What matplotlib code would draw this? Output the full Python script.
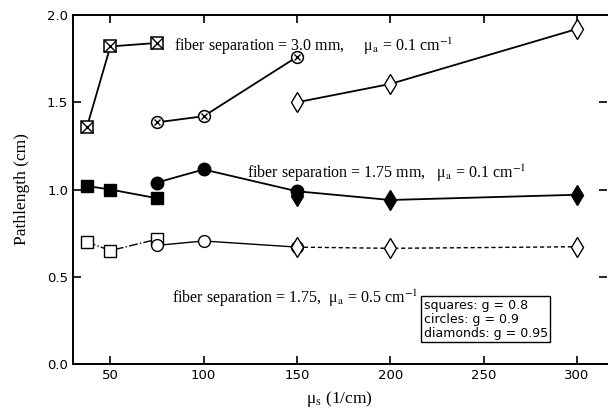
import numpy as np
import matplotlib
matplotlib.use("Agg")
import matplotlib.pyplot as plt

plt.rcParams['mathtext.fontset'] = 'stix'
serif = 'Liberation Serif'

# fiber separation 3.0 mm, mua = 0.1
sq30_x = [37.5, 50, 75]
sq30_y = [1.36, 1.82, 1.84]
ci30_x = [75, 100, 150]
ci30_y = [1.385, 1.42, 1.76]
di30_x = [150, 200, 300]
di30_y = [1.50, 1.605, 1.92]

# fiber separation 1.75 mm, mua = 0.1
sq175_x = [37.5, 50, 75]
sq175_y = [1.02, 1.00, 0.95]
ci175_x = [75, 100, 150]
ci175_y = [1.04, 1.115, 0.99]
di175_x = [150, 200, 300]
di175_y = [0.96, 0.94, 0.97]

# fiber separation 1.75, mua = 0.5
sq05_x = [37.5, 50, 75]
sq05_y = [0.70, 0.65, 0.715]
ci05_x = [75, 100, 150]
ci05_y = [0.68, 0.705, 0.67]
di05_x = [150, 200, 300]
di05_y = [0.67, 0.663, 0.672]

xticks = [50, 100, 150, 200, 250, 300]
yticks = [0.0, 0.5, 1.0, 1.5, 2.0]

fig = plt.figure(figsize=(6.1, 4.12), dpi=100)
ax = fig.add_axes([0.1197, 0.1165, 0.875, 0.847])

k = 'black'
lw = 1.3
# 3.0 mm group
ax.plot(sq30_x, sq30_y, '-', color=k, lw=lw)
ax.plot(sq30_x, sq30_y, 's', ms=9, mfc='white', mec=k, mew=1.1)
ax.plot(sq30_x, sq30_y, 'x', ms=9, color=k, mew=1.0)
ax.plot(ci30_x, ci30_y, '-', color=k, lw=lw)
ax.plot(ci30_x, ci30_y, 'o', ms=8.5, mfc='white', mec=k, mew=1.1)
ax.plot(ci30_x, ci30_y, 'x', ms=4, color=k, mew=1.0)
ax.plot(di30_x, di30_y, '-', color=k, lw=lw)
ax.plot(di30_x, di30_y, 'd', ms=10, mfc='white', mec=k, mew=1.0)

# 1.75 mm, 0.1
ax.plot(sq175_x, sq175_y, '-', color=k, lw=lw)
ax.plot(sq175_x, sq175_y, 's', ms=9, color=k)
ax.plot(ci175_x + di175_x[1:], ci175_y + di175_y[1:], '-', color=k, lw=lw)
ax.plot(ci175_x, ci175_y, 'o', ms=9, color=k)
ax.plot(di175_x, di175_y, 'd', ms=10, color=k)

# 1.75, 0.5
ax.plot(sq05_x, sq05_y, '-.', color=k, lw=1.0)
ax.plot(sq05_x, sq05_y, 's', ms=9, mfc='white', mec=k, mew=1.0)
ax.plot(ci05_x, ci05_y, '-', color=k, lw=1.0)
ax.plot(ci05_x, ci05_y, 'o', ms=8.5, mfc='white', mec=k, mew=1.0)
ax.plot(di05_x, di05_y, '--', color=k, lw=1.0, dashes=(3, 2))
ax.plot(di05_x, di05_y, 'd', ms=10, mfc='white', mec=k, mew=1.0)

ax.set_xlim(30, 316)
ax.set_ylim(0, 2.0)
ax.set_xticks(xticks)
ax.set_yticks(yticks)
ax.set_yticklabels(['%.1f' % v for v in yticks])
ax.tick_params(direction='in', top=True, right=True, length=6, width=1.2,
               labelsize=9.5, colors=k)
for s in ['left', 'bottom', 'top']:
    ax.spines[s].set_linewidth(1.4)
ax.spines['right'].set_visible(False)

ax.set_xlabel(u'\u03bc$_\\mathrm{s}$ (1/cm)', fontsize=12.5, family=serif, labelpad=5)
ax.set_ylabel('Pathlength (cm)', fontsize=12.5, family=serif, labelpad=12)

tfs = 11.5
ax.text(84, 1.82, u'fiber separation = 3.0 mm,     \u03bc$_\\mathrm{a}$ = 0.1 cm$^{-1}$',
        fontsize=tfs, family=serif, va='center')
ax.text(123, 1.09, u'fiber separation = 1.75 mm,   \u03bc$_\\mathrm{a}$ = 0.1 cm$^{-1}$',
        fontsize=tfs, family=serif, va='center')
ax.text(83, 0.375, u'fiber separation = 1.75,  \u03bc$_\\mathrm{a}$ = 0.5 cm$^{-1}$',
        fontsize=tfs, family=serif, va='center')
ax.text(218, 0.14, 'squares: g = 0.8\ncircles: g = 0.9\ndiamonds: g = 0.95',
        fontsize=9, va='bottom', linespacing=1.1,
        bbox=dict(boxstyle='square,pad=0.2', fc='white', ec=k, lw=1.0))

fig.savefig('out.png', dpi=100)
